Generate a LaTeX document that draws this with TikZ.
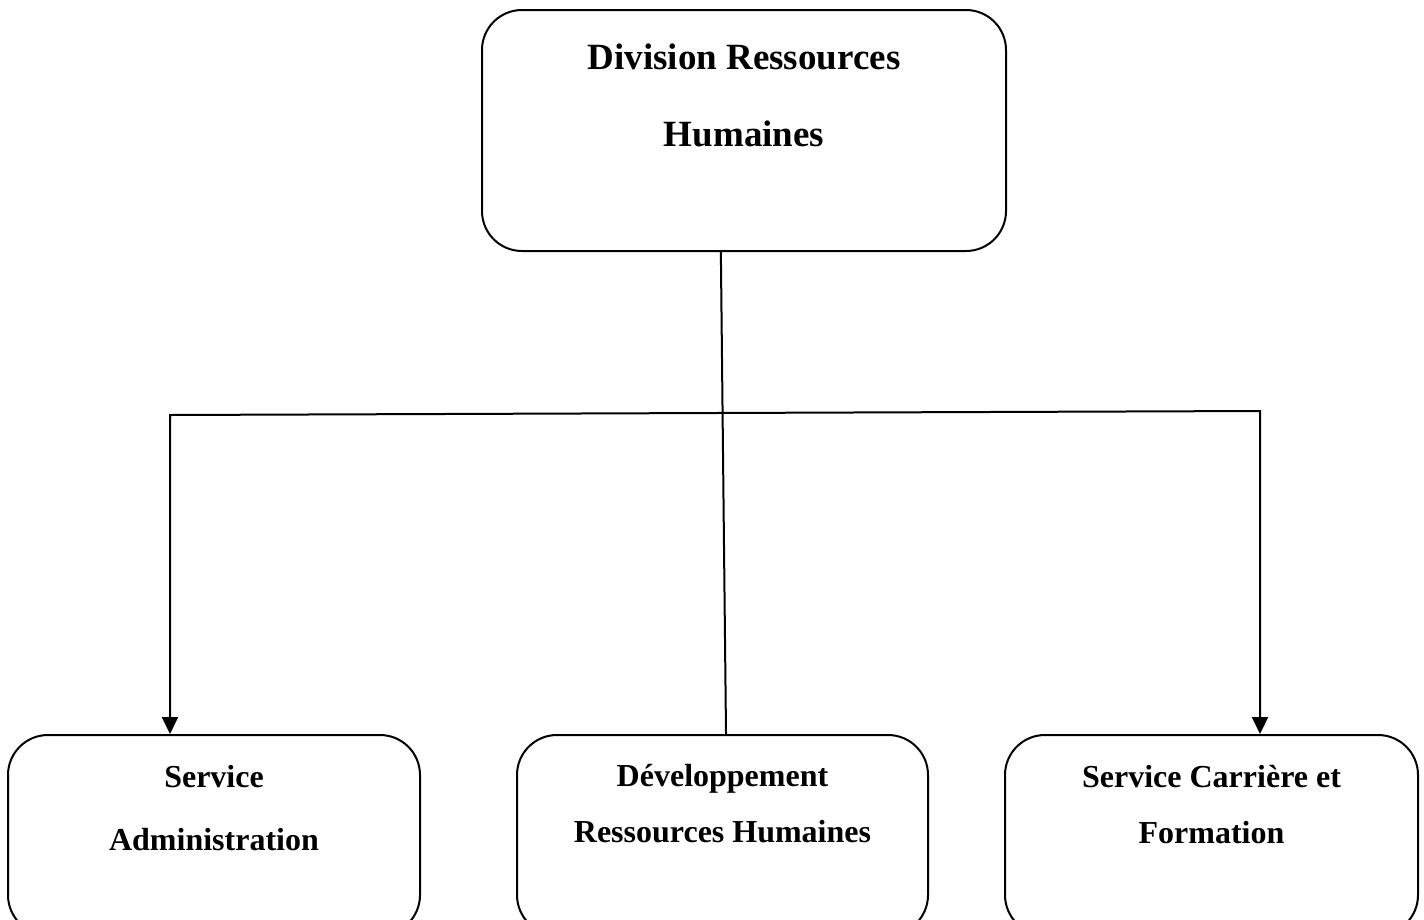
\documentclass[tikz,border=0pt]{standalone}
\usepackage{fontspec}
\setmainfont{Liberation Serif}
\usetikzlibrary{arrows.meta,calc}
\begin{document}
\begin{tikzpicture}[x=1pt,y=-1pt,
  box/.style={draw, line width=2pt, rounded corners=40pt, inner sep=0pt},
  lab/.style={align=center, inner sep=0pt, anchor=north},
  conn/.style={line width=2pt},
  tip/.tip={Triangle[width=16pt,length=17pt]}]
\useasboundingbox (0,0) rectangle (1424,919);
\clip (0,0) rectangle (1424,919);
\node[box, minimum width=524pt, minimum height=241pt] (top) at (744,130.5) {};
\node[box, minimum width=412pt, minimum height=200pt] (sa) at (214,835) {};
\node[box, minimum width=411pt, minimum height=200pt] (sb) at (722.5,835) {};
\node[box, minimum width=413pt, minimum height=200pt] (sc) at (1211.5,835) {};
\node[lab, font=\bfseries\fontsize{37}{77}\selectfont] (topL) at (744,44) {Division Ressources\\Humaines};
\node[lab, font=\bfseries\fontsize{32}{63}\selectfont] (saL) at (214,765) {Service\\Administration};
\node[lab, font=\bfseries\fontsize{32}{56}\selectfont] (sbL) at (722.5,764) {Développement\\Ressources Humaines};
\node[lab, font=\bfseries\fontsize{32}{56}\selectfont] (scL) at (1211.5,765) {Service Carrière et\\Formation};
\coordinate (jL) at (170,415);
\coordinate (jR) at (1260,411);
\draw[conn] ($(top.south west)!0.456!(top.south east)$) -- ($(sb.north west)!0.5085!(sb.north east)$);
\draw[conn, line join=miter, tip-tip] (jL |- sa.north) -- (jL) -- (jR) -- (jR |- sc.north);
\end{tikzpicture}
\end{document}
